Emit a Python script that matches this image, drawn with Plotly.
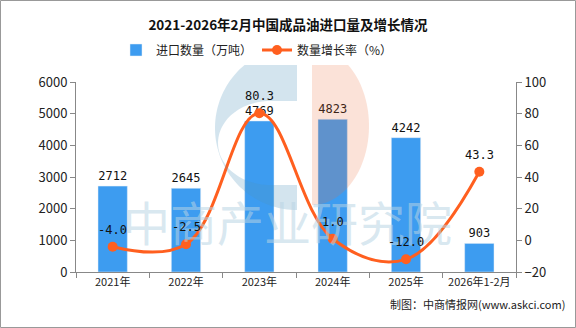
import plotly.graph_objects as go
import numpy as np

categories = ["2021年", "2022年", "2023年", "2024年", "2025年", "2026年1-2月"]
import_volume = [2712, 2645, 4769, 4823, 4242, 903]
growth_rate = [-4.0, -2.5, 80.3, 1.0, -12.0, 43.3]
title_text = "2021-2026年2月中国成品油进口量及增长情况"
bar_name = "进口数量（万吨）"
line_name = "数量增长率（%）"
source_text = "制图：中商情报网(www.askci.com)"
watermark_text = "中商产业研究院"

W, H = 576, 328
L, R, T, B = 76, 60, 82, 56
PW, PH = W - L - R, H - T - B

def px(x):
    return (x - L) / PW

def py(y):
    return (H - B - y) / PH

def poly_path(points):
    return "M " + " L ".join(f"{px(x):.5f},{py(y):.5f}" for x, y in points) + " Z"

BAR_C = "#3d9cf0"
LINE_C = "#ff5f1f"
FONT = "Noto Sans CJK SC"
MONO = "DejaVu Sans Mono"

fig = go.Figure()
fig.add_trace(go.Bar(
    x=categories, y=import_volume, name=bar_name, marker_color=BAR_C,
    width=0.4, text=[str(v) for v in import_volume], textposition="outside",
    textfont=dict(size=12, color="#111", family=MONO),
    cliponaxis=False,
))
fig.add_trace(go.Scatter(
    x=categories, y=growth_rate, name=line_name, yaxis="y2", mode="lines+markers",
    line=dict(color=LINE_C, width=3, shape="spline", smoothing=1.1),
    marker=dict(size=10, color=LINE_C), cliponaxis=False,
))

# watermark text first so the data labels sit above it
fig.add_annotation(xref="paper", yref="paper", x=px(287), y=py(257), text=watermark_text,
                   showarrow=False, font=dict(size=47, color="rgba(185,212,228,0.55)", family=FONT))

for c, v in zip(categories, growth_rate):
    fig.add_annotation(x=c, y=v, yref="y2", text=f"{v:.1f}", showarrow=False,
                       yshift=17, font=dict(size=12, color="#111", family=MONO))

# watermark logo (decorative)
shapes = []
th = np.linspace(np.pi / 2, 3 * np.pi / 2, 80)
outer = [(297 + 82 * np.cos(t), 128 - 82 * np.sin(t)) for t in th]
th_in = np.linspace(3 * np.pi / 2, np.pi / 2, 60)
inner = [(297, 185)] + [(270 + 52 * np.cos(t), 143 - 42 * np.sin(t)) for t in th_in] + [(297, 101)]
shapes.append(dict(type="path", xref="paper", yref="paper", path=poly_path(outer + inner),
                   fillcolor="rgba(79,147,187,0.25)", line=dict(width=0), layer="above"))
thp = np.linspace(-np.pi / 2, np.pi / 2, 60)
peach = [(312, 205)] + [(312 + 57 * np.cos(t), 126 - 79 * np.sin(t)) for t in thp]
shapes.append(dict(type="path", xref="paper", yref="paper", path=poly_path(peach),
                   fillcolor="rgba(235,110,60,0.2)", line=dict(width=0), layer="above"))
# border
shapes.append(dict(type="rect", xref="paper", yref="paper",
                   x0=px(0.5), x1=px(W - 0.5), y0=py(H - 0.5), y1=py(0.5),
                   line=dict(color="#999", width=1), layer="above"))
fig.update_layout(shapes=shapes)

fig.add_annotation(xref="paper", yref="paper", x=px(567), y=py(314), text=source_text,
                   xanchor="right", showarrow=False, font=dict(size=11, color="#222", family=FONT))

fig.update_layout(
    width=W, height=H, margin=dict(l=L, r=R, t=T, b=B),
    paper_bgcolor="white", plot_bgcolor="rgba(0,0,0,0)",
    title=dict(text=f"<b>{title_text}</b>", x=0.5, xanchor="center", y=1 - 25 / H, yanchor="middle",
               font=dict(size=13.5, color="#111", family=FONT)),
    legend=dict(orientation="h", x=px(257), xanchor="center", y=py(50), yanchor="middle",
                font=dict(size=12, color="#222", family=FONT)),
    font=dict(family=FONT),
    xaxis=dict(type="category", showline=True, linecolor="#888", ticks="outside", ticklen=5,
               tickcolor="#888", tickson="boundaries", tickfont=dict(size=11, color="#222"),
               showgrid=False),
    yaxis=dict(range=[0, 6000], dtick=1000, showline=True, linecolor="#888", ticks="outside",
               ticklen=5, tickcolor="#888", showgrid=False, zeroline=False,
               tickfont=dict(size=13, color="#222")),
    yaxis2=dict(range=[-20, 100], dtick=20, overlaying="y", side="right", showline=True,
                linecolor="#888", ticks="outside", ticklen=5, tickcolor="#888", showgrid=False,
                zeroline=False, tickfont=dict(size=13, color="#222")),
    bargap=0.6,
)
fig.write_html("out.html")
